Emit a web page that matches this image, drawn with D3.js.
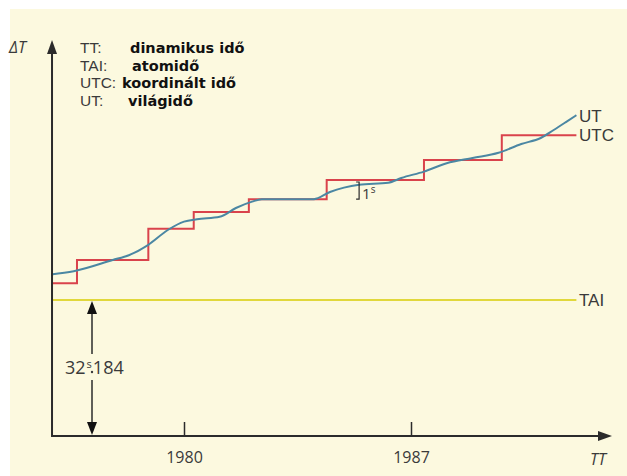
<!DOCTYPE html>
<html>
<head>
<meta charset="utf-8">
<script src="https://cdn.jsdelivr.net/npm/d3@7"></script>
<style>
  body { margin: 0; background: #fff; }
  svg { display: block; }
</style>
</head>
<body>
<svg id="chart" width="627" height="476"></svg>
<script>
//-- data --//
var tickYears = [1980, 1987];

// UTC step edges (year) and the level held after each edge (schematic ΔT units)
var utcYears  = [1975.9, 1976.7, 1978.9, 1980.3, 1982.0, 1984.4, 1987.4, 1989.8, 1992.1];
var utcLevels = [38.2, 44.0, 51.8, 56.0, 59.2, 64.0, 69.0, 75.2];

// UT (world time) curve
var utYears  = [1975.9, 1976.6, 1977.8, 1978.3, 1978.9, 1979.5, 1980.0, 1980.4, 1981.1, 1981.6,
                1982.1, 1982.4, 1984.0, 1984.5, 1985.4, 1986.3, 1986.7, 1987.4, 1988.1, 1988.9,
                1989.7, 1990.4, 1991.0, 1991.4, 1991.8, 1992.1];
var utValues = [40.4, 41.2, 44.0, 45.2, 47.8, 51.5, 53.6, 54.2, 54.8, 57.0,
                58.6, 59.2, 59.2, 61.0, 62.8, 63.3, 64.5, 66.1, 68.2, 69.5,
                70.8, 73.0, 74.5, 76.5, 78.6, 80.2];

var taiLevel = 34;          // TAI line, 32.184 s above TT origin
var taiEnd = 1992.1;
var legendCodes = ["TT:", "TAI:", "UTC:", "UT:"];
var legendNames = ["dinamikus idő", "atomidő", "koordinált idő", "világidő"];
//-- data --//

var svg = d3.select("#chart");

//-- background --//
svg.append("rect")
    .attr("x", 10).attr("y", 9)
    .attr("width", 617).attr("height", 467)
    .attr("fill", "#fcf9df");

//-- scales --//
var x = d3.scaleLinear().domain([1980, 1987]).range([184, 411]);
var y = d3.scaleLinear().domain([0, 100]).range([436, 36]);

var x0 = x(1975.93), yBase = y(0);
var ink = "#2b2b2b";
var labelFont = "'Open Sans', 'Noto Sans', sans-serif";
var narrowFont = "'Liberation Sans', Arial, sans-serif";

//-- TAI line --//
svg.append("line")
    .attr("x1", x0).attr("x2", x(taiEnd))
    .attr("y1", y(taiLevel)).attr("y2", y(taiLevel))
    .attr("stroke", "#e1d83c").attr("stroke-width", 2);

//-- UTC steps --//
var utcData = utcLevels.map((v, i) => ({year: utcYears[i], value: v}));
utcData.push({year: utcYears[utcYears.length - 1], value: utcLevels[utcLevels.length - 1]});

svg.append("path")
    .datum(utcData)
    .attr("fill", "none")
    .attr("stroke", "#d9434c")
    .attr("stroke-width", 2)
    .attr("d", d3.line().x(d => x(d.year)).y(d => y(d.value)).curve(d3.curveStepAfter));

//-- UT curve --//
var utData = utYears.map((t, i) => ({year: t, value: utValues[i]}));

svg.append("path")
    .datum(utData)
    .attr("fill", "none")
    .attr("stroke", "#4b87a3")
    .attr("stroke-width", 2)
    .attr("d", d3.line().x(d => x(d.year)).y(d => y(d.value)).curve(d3.curveMonotoneX));

//-- axes --//
var xAxis = svg.append("g")
    .attr("transform", `translate(0,${yBase})`)
    .call(d3.axisBottom(x).tickValues(tickYears).tickFormat(d3.format("d"))
        .tickSize(-14).tickSizeOuter(0).tickPadding(16));

xAxis.select(".domain").remove();
xAxis.selectAll("line").attr("stroke", ink).attr("stroke-width", 1.5);
xAxis.selectAll("text")
    .attr("fill", "#3a3a3a")
    .style("font-family", labelFont)
    .style("font-size", "16px");

// axis lines with arrow heads
svg.append("line")
    .attr("x1", x0).attr("x2", 600)
    .attr("y1", yBase).attr("y2", yBase)
    .attr("stroke", ink).attr("stroke-width", 2);
svg.append("path")
    .attr("d", `M612,${yBase} L598,${yBase - 5} L598,${yBase + 5} Z`)
    .attr("fill", ink);

svg.append("line")
    .attr("x1", x0).attr("x2", x0)
    .attr("y1", yBase + 1).attr("y2", 52)
    .attr("stroke", ink).attr("stroke-width", 2);
svg.append("path")
    .attr("d", `M${x0},40 L${x0 - 5},54 L${x0 + 5},54 Z`)
    .attr("fill", ink);

svg.append("text")
    .attr("x", 9).attr("y", 53)
    .style("font-family", labelFont)
    .style("font-style", "italic")
    .style("font-size", "16px")
    .attr("fill", "#3a3a3a")
    .text("ΔT");

svg.append("text")
    .attr("x", 590).attr("y", 465)
    .style("font-family", labelFont)
    .style("font-style", "italic")
    .style("font-size", "16px")
    .attr("fill", "#3a3a3a")
    .text("TT");

//-- 32.184 s double arrow --//
var ax = 92;
svg.append("line")
    .attr("x1", ax).attr("x2", ax)
    .attr("y1", y(taiLevel) + 10).attr("y2", 354)
    .attr("stroke", ink).attr("stroke-width", 1.5);
svg.append("line")
    .attr("x1", ax).attr("x2", ax)
    .attr("y1", 380).attr("y2", yBase - 10)
    .attr("stroke", ink).attr("stroke-width", 1.5);
svg.append("path")
    .attr("d", `M${ax},${y(taiLevel) + 1} L${ax - 5},${y(taiLevel) + 14} L${ax + 5},${y(taiLevel) + 14} Z`)
    .attr("fill", "#111");
svg.append("path")
    .attr("d", `M${ax},${yBase - 1} L${ax - 5},${yBase - 14} L${ax + 5},${yBase - 14} Z`)
    .attr("fill", "#111");

var sec = svg.append("text")
    .attr("x", 65).attr("y", 374)
    .style("font-family", labelFont)
    .style("font-size", "18px")
    .attr("fill", "#3a3a3a");
sec.append("tspan").text("32");
sec.append("tspan").attr("dx", 1).attr("dy", -6).style("font-size", "11px").text("s");
sec.append("tspan").attr("dx", 1).attr("dy", 6).text("184");
svg.append("circle")
    .attr("cx", ax).attr("cy", 372).attr("r", 1.2)
    .attr("fill", "#3a3a3a");

//-- 1s bracket --//
var bx = x(1985.4);
svg.append("path")
    .attr("d", `M${bx - 3},${y(64) + 2} L${bx},${y(64) + 2} L${bx},${y(59.2)} L${bx - 3},${y(59.2)}`)
    .attr("fill", "none")
    .attr("stroke", ink).attr("stroke-width", 1.2);
var one = svg.append("text")
    .attr("x", bx + 3).attr("y", y(59.2))
    .style("font-family", labelFont)
    .style("font-size", "15px")
    .attr("fill", "#3a3a3a");
one.append("tspan").text("1");
one.append("tspan").attr("dy", -6).style("font-size", "10px").text("s");

//-- series labels --//
var endLabels = [
    {text: "UT",  value: utValues[utValues.length - 1] - 0.2},
    {text: "UTC", value: utcLevels[utcLevels.length - 1]},
    {text: "TAI", value: taiLevel}
];
svg.selectAll(".end-label")
    .data(endLabels)
    .enter().append("text")
    .attr("class", "end-label")
    .attr("x", 579)
    .attr("y", d => y(d.value) + 6)
    .style("font-family", narrowFont)
    .style("font-size", "17px")
    .attr("fill", "#3a3a3a")
    .text(d => d.text);

//-- legend --//
var nameX = [130, 132, 122, 128];

svg.selectAll(".legend-code")
    .data(legendCodes)
    .enter().append("text")
    .attr("class", "legend-code")
    .attr("x", 80)
    .attr("y", (d, i) => 53 + i * 17.5)
    .style("font-family", narrowFont)
    .style("font-size", "15.5px")
    .attr("fill", "#3a3a3a")
    .text(d => d);

svg.selectAll(".legend-name")
    .data(legendNames)
    .enter().append("text")
    .attr("class", "legend-name")
    .attr("x", (d, i) => nameX[i])
    .attr("y", (d, i) => 53 + i * 17.5)
    .style("font-family", "'DejaVu Sans', sans-serif")
    .style("font-weight", "bold")
    .style("font-size", "14.5px")
    .attr("fill", "#111")
    .text(d => d);
</script>
</body>
</html>
